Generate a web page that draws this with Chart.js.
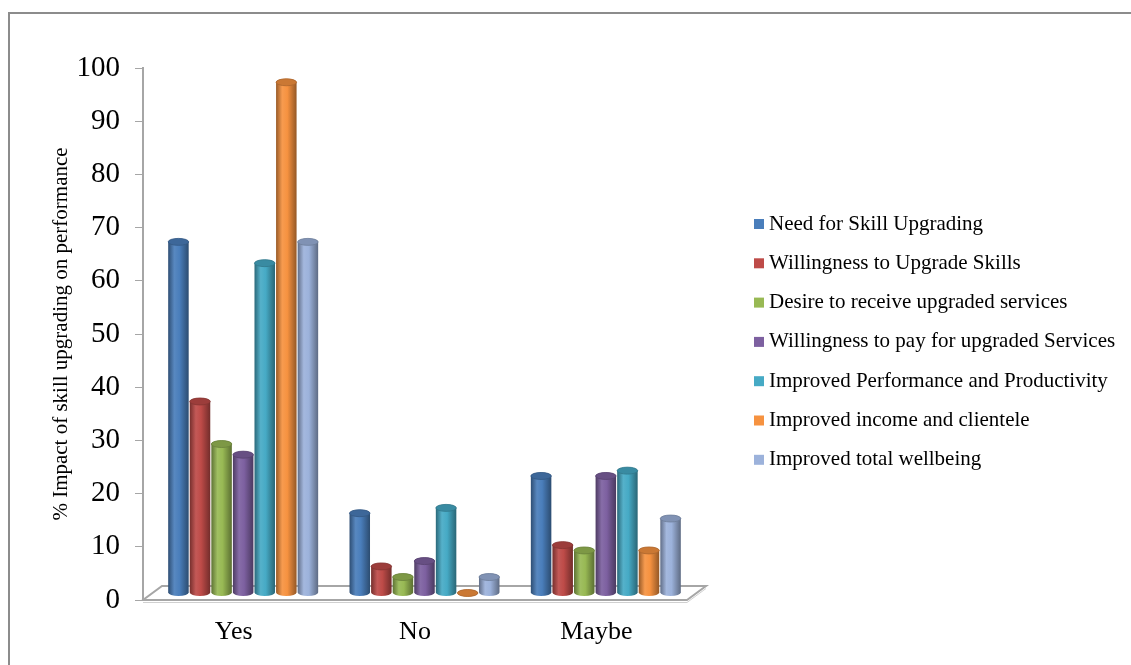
<!DOCTYPE html>
<html>
<head>
<meta charset="utf-8">
<script src="https://cdn.jsdelivr.net/npm/chart.js@4.4.1/dist/chart.umd.min.js"></script>
<style>
  html, body { margin: 0; padding: 0; background: #fff; }
  canvas { display: block; }
</style>
</head>
<body>
<canvas id="chart" width="1131" height="665"></canvas>
<script>
// survey answers per category
var categories = ['Yes', 'No', 'Maybe'];

var needForSkill        = [66, 15, 22];
var willingToUpgrade    = [36, 5, 9];
var desireServices      = [28, 3, 8];
var willingToPay        = [26, 6, 22];
var improvedPerformance = [62, 16, 23];
var improvedIncome      = [96, 0, 8];
var improvedWellbeing   = [66, 3, 14];

var seriesLabels = [
  'Need for Skill Upgrading',
  'Willingness to Upgrade Skills',
  'Desire to receive upgraded services',
  'Willingness to pay for upgraded Services',
  'Improved Performance and Productivity',
  'Improved income and clientele',
  'Improved total wellbeing'
];
var seriesValues = [needForSkill, willingToUpgrade, desireServices, willingToPay,
                    improvedPerformance, improvedIncome, improvedWellbeing];
var seriesColors = ['#4A7EBB', '#BE4B48', '#98B954', '#7D60A0', '#46AAC5', '#F69240', '#9CB2DB'];

var yTicks = [0, 10, 20, 30, 40, 50, 60, 70, 80, 90, 100];

var SERIF = '"Liberation Serif", "Times New Roman", serif';
// depth of the floor and where the cylinders sit inside it
var DEPTH_X = 19, DEPTH_Y = -14;
var BAR_DX = 9.5, BAR_DY = -7;

function shade(hex, f) {
  var n = parseInt(hex.slice(1), 16);
  var r = (n >> 16) & 255, g = (n >> 8) & 255, b = n & 255;
  function c(v) {
    v = f < 1 ? v * f : v + (255 - v) * (f - 1);
    return Math.max(0, Math.min(255, Math.round(v)));
  }
  return 'rgb(' + c(r) + ',' + c(g) + ',' + c(b) + ')';
}

// outer frame of the figure
var framePlugin = {
  id: 'frame',
  beforeDraw: function(chart) {
    var ctx = chart.ctx;
    ctx.save();
    ctx.fillStyle = '#fff';
    ctx.fillRect(0, 0, chart.width, chart.height);
    ctx.strokeStyle = '#8c8c8c';
    ctx.lineWidth = 2;
    ctx.strokeRect(9, 13, chart.width + 20, chart.height + 20);
    ctx.restore();
  }
};

// the 3d floor and the cylinder bars
var cylinderPlugin = {
  id: 'cylinders',
  beforeDatasetsDraw: function(chart) {
    var ctx = chart.ctx;
    var a = chart.chartArea;
    ctx.save();

    // floor slab
    ctx.strokeStyle = '#a6a6a6';
    ctx.lineWidth = 2;
    ctx.beginPath();
    ctx.moveTo(a.left, a.bottom);
    ctx.lineTo(a.right, a.bottom);
    ctx.lineTo(a.right + DEPTH_X, a.bottom + DEPTH_Y);
    ctx.lineTo(a.left + DEPTH_X, a.bottom + DEPTH_Y);
    ctx.closePath();
    ctx.stroke();
    ctx.strokeStyle = '#d0d0d0';
    ctx.lineWidth = 1;
    ctx.beginPath();
    ctx.moveTo(a.left, a.bottom + 2.5);
    ctx.lineTo(a.right, a.bottom + 2.5);
    ctx.lineTo(a.right + DEPTH_X, a.bottom + DEPTH_Y + 2.5);
    ctx.stroke();

    chart.data.datasets.forEach(function(ds, i) {
      var meta = chart.getDatasetMeta(i);
      var base = seriesColors[i];
      meta.data.forEach(function(el) {
        var p = el.getProps(['x', 'y', 'base', 'width'], true);
        var cx = p.x + BAR_DX;
        var rx = p.width / 2;
        var ry = p.width * 0.17;
        var top = p.y + BAR_DY;
        var bot = p.base + BAR_DY;
        var l = cx - rx, r = cx + rx;

        var g = ctx.createLinearGradient(l, 0, r, 0);
        g.addColorStop(0, shade(base, 0.62));
        g.addColorStop(0.3, shade(base, 1.08));
        g.addColorStop(0.55, shade(base, 1.0));
        g.addColorStop(1, shade(base, 0.6));

        ctx.fillStyle = g;
        ctx.beginPath();
        ctx.moveTo(l, top);
        ctx.lineTo(l, bot);
        ctx.ellipse(cx, bot, rx, ry, 0, Math.PI, 0, true);
        ctx.lineTo(r, top);
        ctx.ellipse(cx, top, rx, ry, 0, 0, Math.PI, true);
        ctx.closePath();
        ctx.fill();

        // top cap
        ctx.fillStyle = shade(base, 0.82);
        ctx.beginPath();
        ctx.ellipse(cx, top, rx, ry, 0, 0, Math.PI * 2);
        ctx.fill();
        ctx.strokeStyle = shade(base, 0.7);
        ctx.lineWidth = 0.8;
        ctx.stroke();
      });
    });
    ctx.restore();
    return false;
  }
};

// legend on the right
var legendPlugin = {
  id: 'sideLegend',
  afterDraw: function(chart) {
    var ctx = chart.ctx;
    ctx.save();
    ctx.font = '21px ' + SERIF;
    ctx.textBaseline = 'middle';
    ctx.textAlign = 'left';
    chart.data.datasets.forEach(function(ds, i) {
      var y = 224 + i * 39.3;
      ctx.fillStyle = seriesColors[i];
      ctx.fillRect(754, y - 5, 10, 10);
      ctx.fillStyle = '#000';
      ctx.fillText(ds.label, 769, y);
    });
    ctx.restore();
  }
};

var datasets = seriesLabels.map(function(label, i) {
  return {
    label: label,
    data: seriesValues[i],
    backgroundColor: seriesColors[i],
    borderWidth: 0,
    categoryPercentage: 0.833,
    barPercentage: 0.95
  };
});

new Chart(document.getElementById('chart'), {
  type: 'bar',
  data: { labels: categories, datasets: datasets },
  options: {
    responsive: false,
    animation: false,
    layout: { padding: { top: 68, right: 444, left: 0, bottom: 0 } },
    plugins: {
      legend: { display: false },
      tooltip: { enabled: false }
    },
    scales: {
      x: {
        grid: { display: false, drawTicks: false },
        border: { display: false },
        ticks: { color: '#000', padding: 17, font: { family: SERIF, size: 26 } },
        afterFit: function(scale) { scale.height = 65; }
      },
      y: {
        min: 0,
        max: 100,
        afterBuildTicks: function(scale) {
          scale.ticks = yTicks.map(function(v) { return { value: v }; });
        },
        grid: { display: true, drawOnChartArea: false, drawTicks: true, tickLength: 8, color: '#a6a6a6' },
        border: { display: true, color: '#a6a6a6', width: 2 },
        ticks: { color: '#000', padding: 15, font: { family: SERIF, size: 29 } },
        title: {
          display: true,
          text: '% Impact of skill upgrading on performance',
          color: '#000',
          font: { family: SERIF, size: 21 },
          padding: { top: 49, bottom: 0 }
        },
        afterFit: function(scale) { scale.width = 143; }
      }
    }
  },
  plugins: [framePlugin, cylinderPlugin, legendPlugin]
});
</script>
</body>
</html>
